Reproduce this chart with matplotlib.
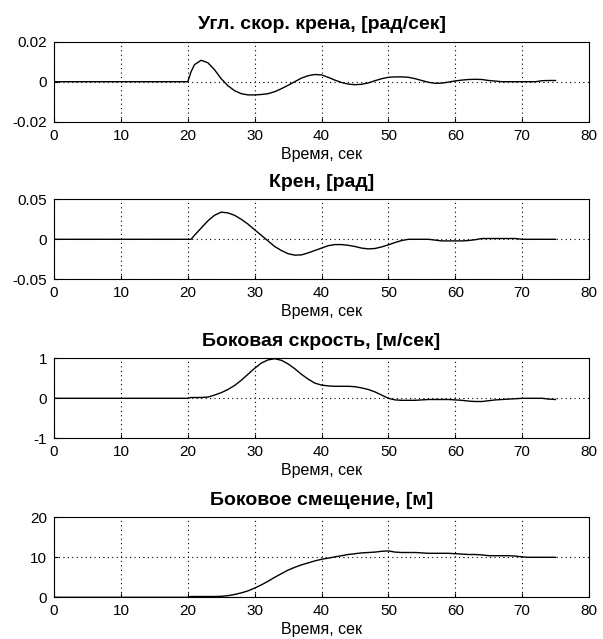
import matplotlib.pyplot as plt

# time samples, seconds
t = [0, 20, 20.5, 21, 22, 23, 24, 25, 26, 27, 28, 29, 30, 31, 32, 33, 34, 35, 36,
     37, 38, 39, 40, 41, 42, 43, 44, 45, 46, 47, 48, 49, 50, 51, 52, 53, 54, 55,
     56, 57, 58, 59, 60, 61, 62, 63, 64, 65, 66, 67, 68, 69, 70, 71, 72, 73, 74, 75]

# roll rate, rad/s
roll_rate = [0, 0, 0.005, 0.0085, 0.0107, 0.0095, 0.006, 0.0015, -0.002, -0.0045, -0.006,
             -0.0066, -0.0066, -0.0064, -0.006, -0.005, -0.0035, -0.0018, 0.0, 0.0018,
             0.003, 0.0036, 0.0034, 0.0022, 0.0008, -0.0004, -0.0012, -0.0015, -0.0013,
             -0.0006, 0.0005, 0.0015, 0.0022, 0.0024, 0.0024, 0.0022, 0.0015, 0.0006,
             -0.0003, -0.0008, -0.0007, -0.0002, 0.0004, 0.0008, 0.0011, 0.0012, 0.0011,
             0.0006, 0.0003, 0.0, 0.0, 0.0, 0.0, 0.0, 0.0, 0.0005, 0.0006, 0.0006]

# roll angle, rad
roll = [0, 0, 0.0, 0.005, 0.014, 0.023, 0.03, 0.034, 0.033, 0.03, 0.025, 0.019, 0.012,
        0.005, -0.002, -0.009, -0.014, -0.018, -0.0198, -0.0195, -0.017, -0.014, -0.011,
        -0.008, -0.0066, -0.0066, -0.0075, -0.009, -0.011, -0.012, -0.0115, -0.0095,
        -0.007, -0.004, -0.0015, 0.0, 0.0, 0.0, 0.0, -0.001, -0.002, -0.002, -0.002,
        -0.002, -0.0015, -0.0005, 0.001, 0.001, 0.001, 0.001, 0.001, 0.001, 0.0, 0.0,
        0.0, 0.0, 0.0, 0.0]

# lateral velocity, m/s
lat_vel = [0, 0, 0.02, 0.02, 0.02, 0.03, 0.08, 0.14, 0.22, 0.32, 0.45, 0.6, 0.75,
           0.88, 0.96, 0.99, 0.95, 0.86, 0.74, 0.6, 0.48, 0.38, 0.33, 0.31, 0.3, 0.3,
           0.3, 0.29, 0.26, 0.22, 0.16, 0.08, 0.0, -0.04, -0.05, -0.05, -0.05, -0.04,
           -0.03, -0.03, -0.03, -0.03, -0.04, -0.05, -0.07, -0.08, -0.08, -0.06, -0.04,
           -0.03, -0.02, -0.01, 0.0, 0.0, 0.0, 0.0, -0.02, -0.03]

# lateral displacement, m
lat_disp = [0, 0, 0.2, 0.2, 0.2, 0.2, 0.2, 0.25, 0.4, 0.7, 1.1, 1.6, 2.3, 3.1, 4.0,
            5.0, 5.9, 6.8, 7.5, 8.1, 8.6, 9.1, 9.5, 9.8, 10.1, 10.4, 10.7, 10.9, 11.1,
            11.2, 11.3, 11.5, 11.6, 11.3, 11.2, 11.2, 11.2, 11.1, 11.0, 11.0, 11.0,
            11.0, 10.9, 10.8, 10.7, 10.7, 10.6, 10.4, 10.4, 10.4, 10.4, 10.3, 10.1,
            10.0, 10.0, 10.0, 10.0, 10.0]

titles = ['Угл. скор. крена, [рад/сек]', 'Крен, [рад]',
          'Боковая скрость, [м/сек]', 'Боковое смещение, [м]']
ylims = [(-0.02, 0.02), (-0.05, 0.05), (-1, 1), (0, 20)]
yticks = [[-0.02, 0, 0.02], [-0.05, 0, 0.05], [-1, 0, 1], [0, 10, 20]]
ylabels = [['-0.02', '0', '0.02'], ['-0.05', '0', '0.05'], ['-1', '0', '1'], ['0', '10', '20']]
xticks = [0, 10, 20, 30, 40, 50, 60, 70, 80]
series = [roll_rate, roll, lat_vel, lat_disp]

plt.rcParams['font.family'] = ['Liberation Sans', 'DejaVu Sans']

fig = plt.figure(figsize=(6.03, 6.39), dpi=100)
W, H = 603.0, 639.0
tops = [41.7, 199.3, 358.3, 517.3]
for i in range(4):
    ax = fig.add_axes([54 / W, 1 - (tops[i] + 80) / H, 535 / W, 80 / H])
    ax.plot(t, series[i], color='black', linewidth=1.0)
    ax.set_xlim(0, 80)
    ax.set_ylim(*ylims[i])
    ax.set_xticks(xticks)
    ax.set_yticks(yticks[i])
    ax.set_yticklabels(ylabels[i])
    ax.grid(True, color='black', linestyle=(0, (1, 3)), linewidth=0.8)
    ax.tick_params(direction='in', length=3, pad=5, color='black', labelsize=11)
    for s in ax.spines.values():
        s.set_linewidth(0.8)
    ax.set_title(titles[i], fontsize=14, fontweight='bold', pad=9)
    ax.set_xlabel('Время, сек', fontsize=11.5, labelpad=3)

plt.savefig('out.png', dpi=100)
